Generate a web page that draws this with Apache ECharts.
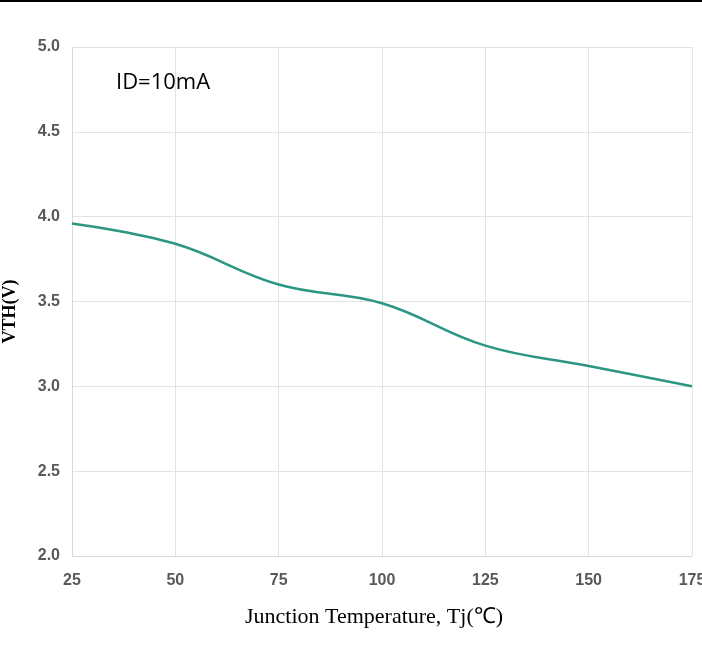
<!DOCTYPE html>
<html>
<head>
<meta charset="utf-8">
<script src="https://cdn.jsdelivr.net/npm/echarts@6/dist/echarts.min.js"></script>
<style>html,body{margin:0;padding:0;background:#fff;}#c{width:702px;height:650px;}</style>
</head>
<body>
<div id="c"></div>
<script>
var temps = [25, 50, 75, 100, 125, 150, 175];
var vth = [3.96, 3.84, 3.60, 3.49, 3.24, 3.12, 3.00];
var xTicks = [25, 50, 75, 100, 125, 150, 175];
var yTicks = [2.0, 2.5, 3.0, 3.5, 4.0, 4.5, 5.0];
var annotation = 'ID=10mA';

var chart = echarts.init(document.getElementById('c'));
var tickFont = {color: '#595959', fontSize: 16, fontWeight: 'bold', fontFamily: '"Liberation Sans", Arial, sans-serif'};
chart.setOption({
  animation: false,
  backgroundColor: '#fff',
  grid: {left: 72, right: 10, top: 47, bottom: 94, outerBoundsMode: 'none', containLabel: false},
  graphic: [
    {type: 'rect', shape: {x: 0, y: 0, width: 702, height: 2}, style: {fill: '#000'}},
    {type: 'text', left: 116, top: 72, style: {text: annotation, fontSize: 22, fill: '#000', fontFamily: '"Open Sans", "Liberation Sans", sans-serif'}}
  ],
  xAxis: {
    type: 'value', min: xTicks[0], max: xTicks[xTicks.length - 1], interval: 25,
    name: 'Junction Temperature, Tj(℃)', nameLocation: 'middle', nameGap: 50,
    nameTextStyle: {fontFamily: '"Liberation Serif", "Times New Roman", serif', fontSize: 22, color: '#000', padding: [0, 16, 0, 0]},
    axisLine: {show: true, lineStyle: {color: '#d9d9d9', width: 1}},
    axisTick: {show: false},
    axisLabel: Object.assign({margin: 17}, tickFont),
    splitLine: {show: true, lineStyle: {color: '#e3e3e3', width: 1}}
  },
  yAxis: {
    type: 'value', min: yTicks[0], max: yTicks[yTicks.length - 1], interval: 0.5,
    name: 'VTH(V)', nameLocation: 'middle', nameGap: 53, nameRotate: 90,
    nameTextStyle: {fontFamily: '"Liberation Serif", "Times New Roman", serif', fontSize: 18, fontWeight: 'bold', color: '#000', padding: [0, 20, 0, 0]},
    axisLine: {show: true, lineStyle: {color: '#d9d9d9', width: 1}},
    axisTick: {show: false},
    axisLabel: Object.assign({margin: 12, formatter: function (v) { return v.toFixed(1); }}, tickFont),
    splitLine: {show: true, lineStyle: {color: '#e3e3e3', width: 1}}
  },
  series: [{
    type: 'line',
    data: temps.map(function (t, i) { return [t, vth[i]]; }),
    smooth: 0.4,
    showSymbol: false,
    lineStyle: {color: '#2a9683', width: 2.5}
  }]
});
</script>
</body>
</html>
